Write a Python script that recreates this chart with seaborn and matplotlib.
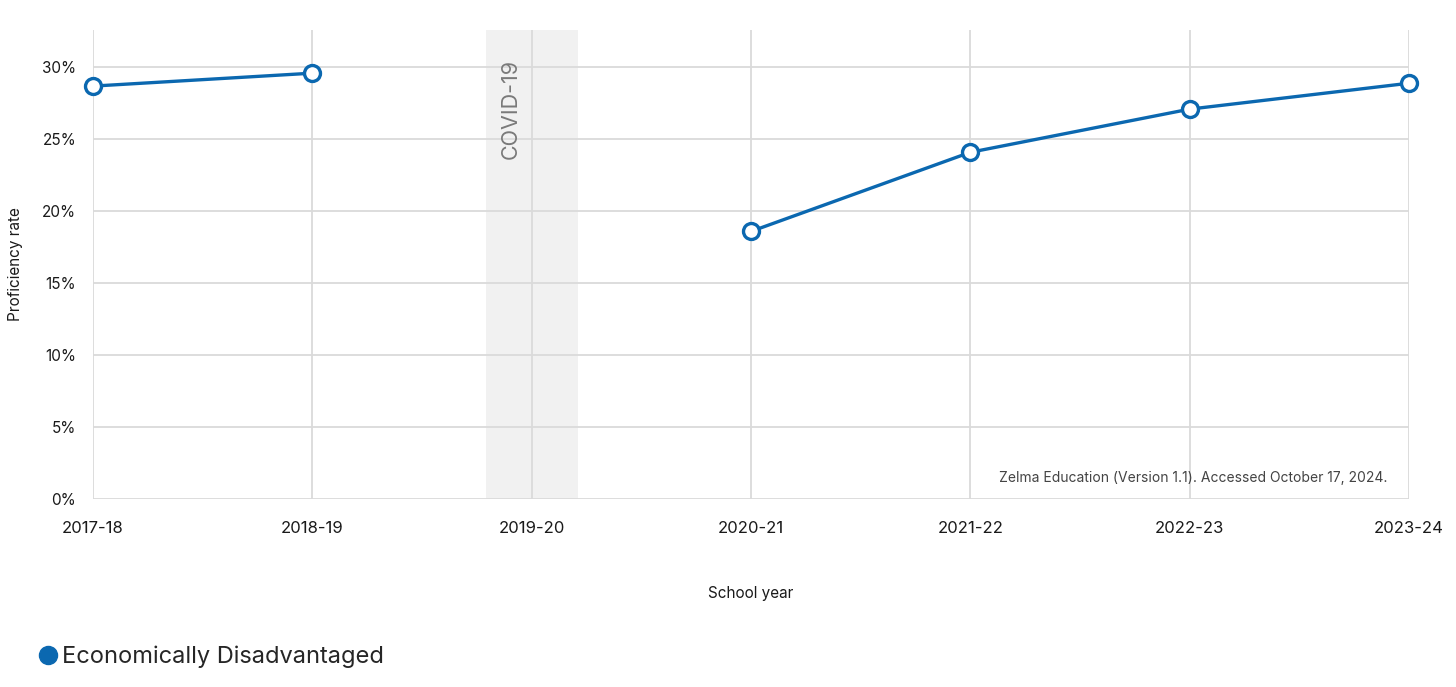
import numpy as np
import pandas as pd
import matplotlib
matplotlib.use("Agg")
import matplotlib.pyplot as plt
from matplotlib.lines import Line2D
from matplotlib.ticker import FuncFormatter
import seaborn as sns

# ---- data ----
years = ["2017-18", "2018-19", "2019-20", "2020-21", "2021-22", "2022-23", "2023-24"]
rates = [28.7, 29.6, np.nan, 18.6, 24.1, 27.1, 28.9]
series_name = "Economically Disadvantaged"
covid_year = "2019-20"
source_note = "Zelma Education (Version 1.1). Accessed October 17, 2024."

BLUE = "#0b68b0"
GRID = "#dadada"

sns.set_theme(style="white")
plt.rcParams["font.family"] = ["Inter", "DejaVu Sans"]

df = pd.DataFrame({"year": years, "rate": rates})
df["pos"] = np.arange(len(years))
covid_pos = years.index(covid_year)
df["segment"] = np.where(df["pos"] < covid_pos, "pre", "post")
df = df.dropna()

fig = plt.figure(figsize=(14.56, 6.87), dpi=100)
ax = fig.add_axes([93 / 1456, 1 - 499 / 687, (1409 - 93) / 1456, (499 - 30) / 687])

# covid band
ax.axvspan(covid_pos - 0.21, covid_pos + 0.21, color="#f1f1f1", zorder=0, lw=0)

sns.lineplot(data=df, x="pos", y="rate", units="segment", estimator=None,
             color=BLUE, lw=2.4, marker="o", markersize=11.5,
             markerfacecolor="white", markeredgecolor=BLUE, markeredgewidth=2.4,
             ax=ax, zorder=5, legend=False, clip_on=False)

ax.set_xlim(0, len(years) - 1)
ax.set_ylim(0, 32.6)
ax.set_xticks(range(len(years)))
ax.set_xticklabels(years)
ax.set_yticks(np.arange(0, 31, 5))
ax.yaxis.set_major_formatter(FuncFormatter(lambda v, p: f"{v:.0f}%"))

ax.grid(True, color=GRID, lw=1.3, zorder=1)
ax.set_axisbelow(True)
for s in ax.spines.values():
    s.set_visible(False)
ax.tick_params(axis="x", length=0, pad=16, labelsize=12, labelcolor="#1a1a1a")
ax.tick_params(axis="y", length=6, width=1.3, color=GRID, pad=6, labelsize=11, labelcolor="#1a1a1a")

ax.set_xlabel("School year", fontsize=11, color="#1a1a1a", labelpad=36)
ax.set_ylabel("Proficiency rate", fontsize=11, color="#1a1a1a", labelpad=14)

ax.text(covid_pos - 0.095, 32.6 - 2.0, "COVID-19", rotation=90, ha="center", va="top",
        fontsize=15.5, color="#7a7a7a", zorder=3)

ax.text(0.984, 0.045, source_note, transform=ax.transAxes, ha="right", va="center",
        fontsize=10, color="#444444", zorder=6)

handle = Line2D([], [], marker="o", color="none", markerfacecolor=BLUE,
                markeredgecolor=BLUE, markersize=13)
fig.legend([handle], [series_name], loc="center left",
           bbox_to_anchor=(24 / 1456, 1 - 657 / 687), frameon=False,
           fontsize=17, handletextpad=0.0, handlelength=1.2, borderaxespad=0)

fig.savefig("out.png", dpi=100)
